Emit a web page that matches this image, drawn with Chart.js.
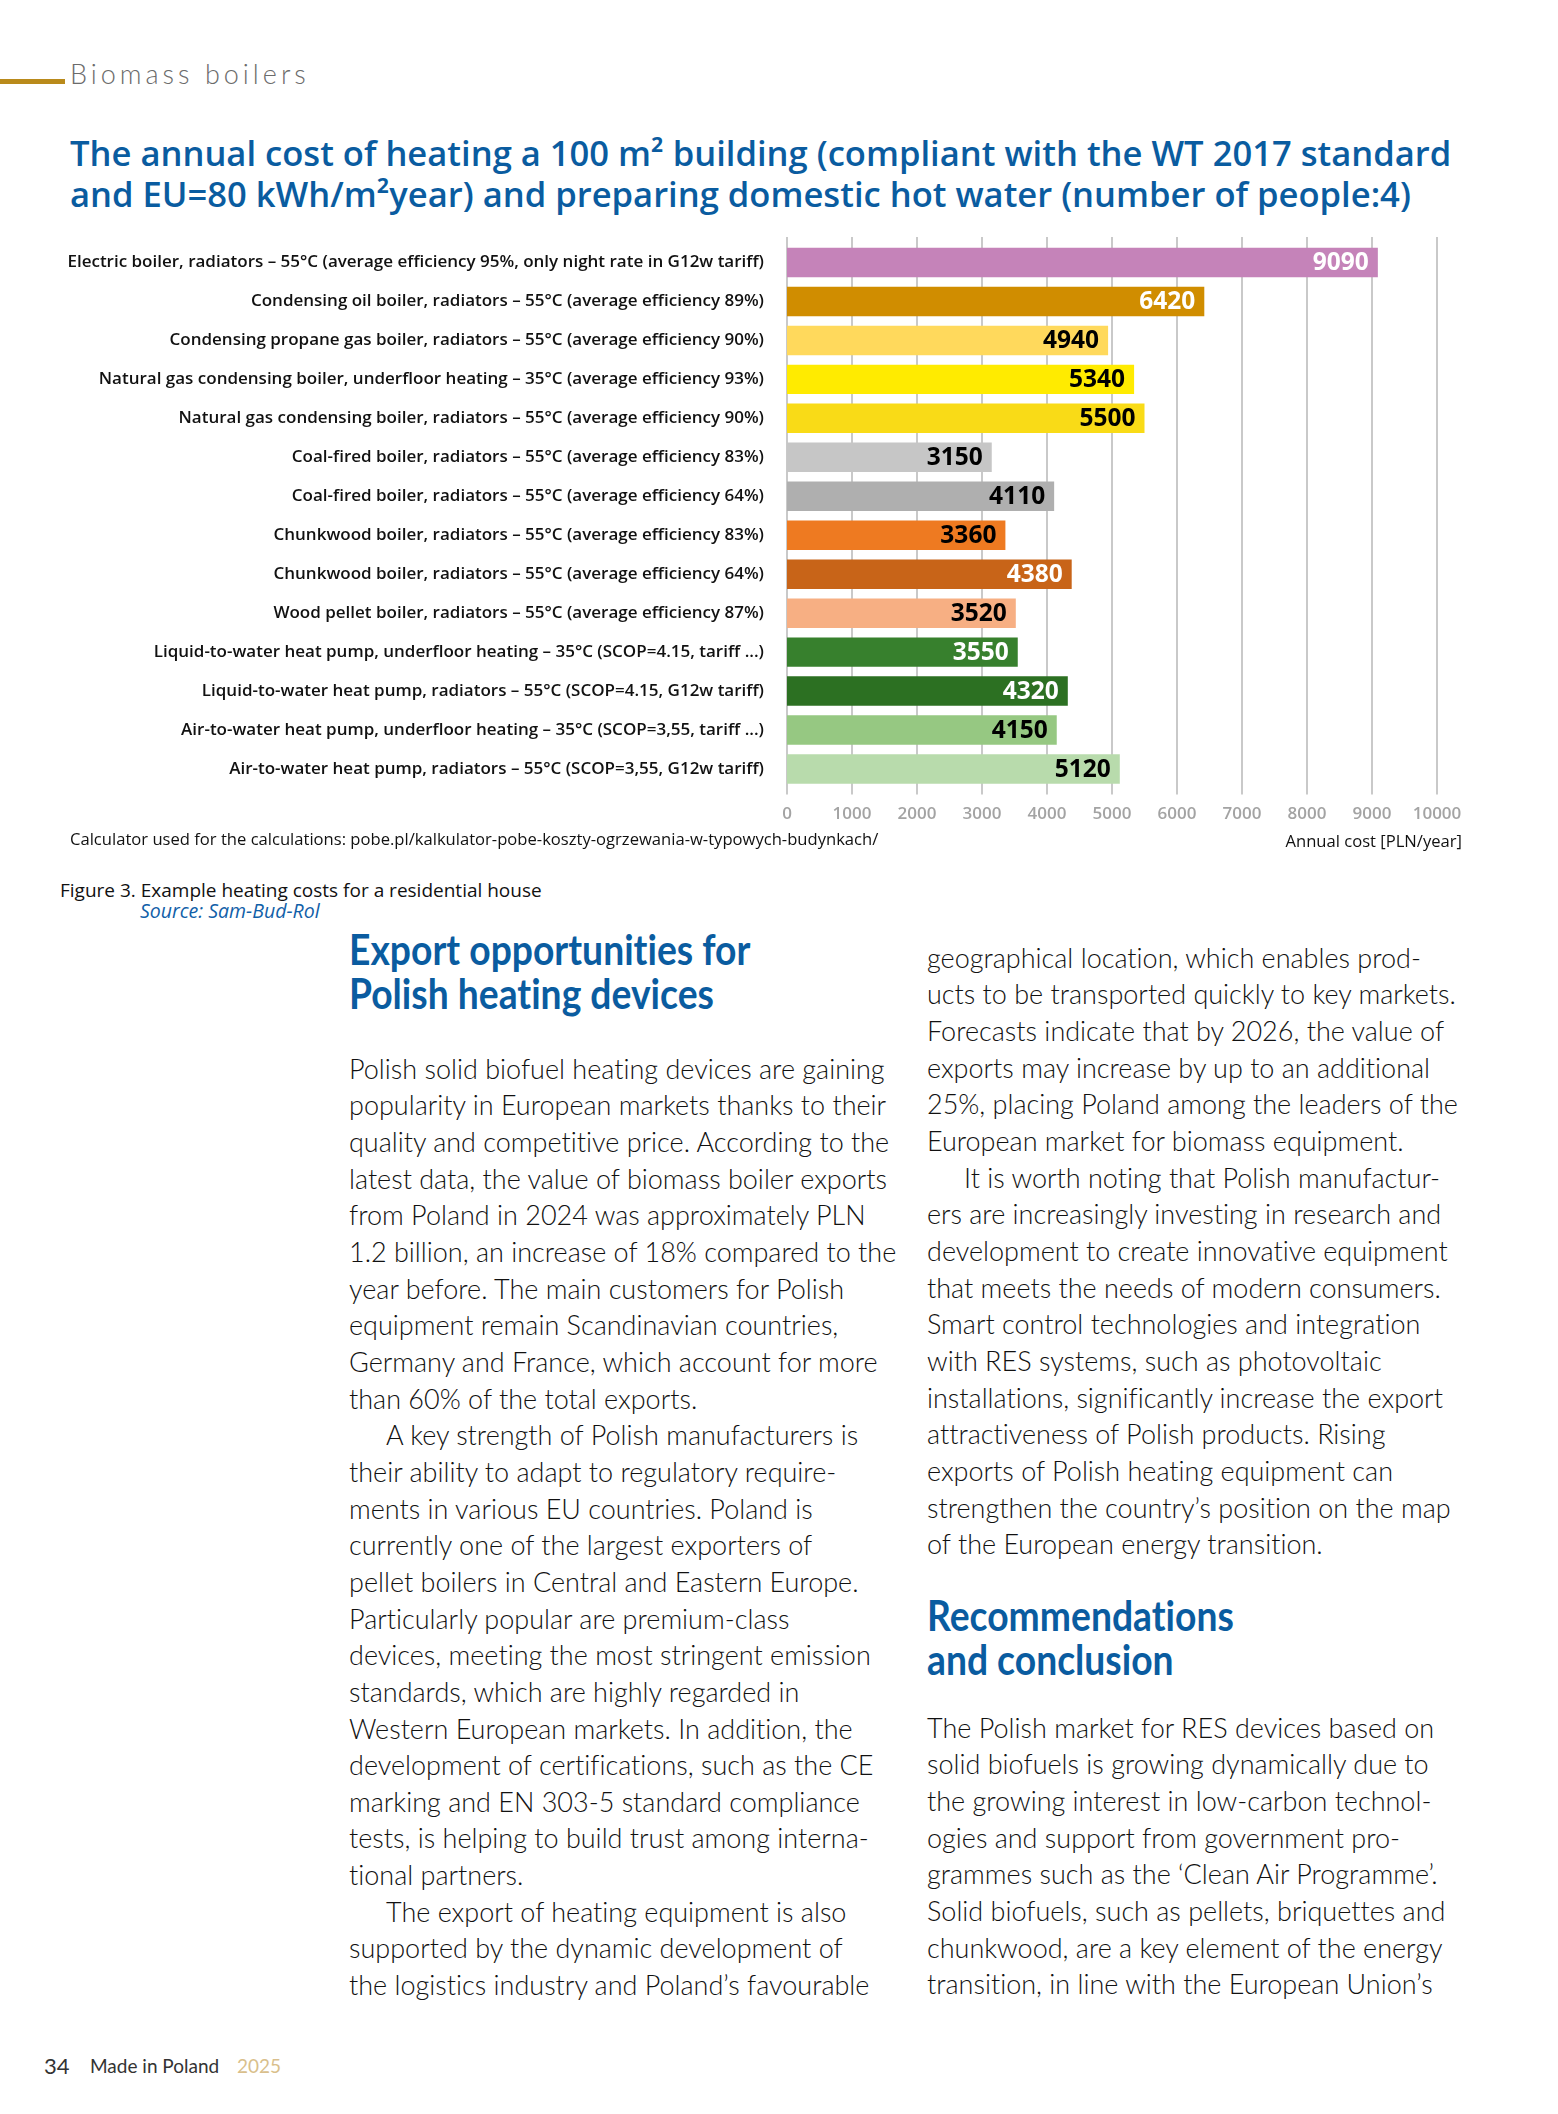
<!DOCTYPE html>
<html>
<head>
<meta charset="utf-8">
<script src="https://cdn.jsdelivr.net/npm/chart.js@4.4.1/dist/chart.umd.min.js"></script>
<style>
  html, body { margin: 0; padding: 0; background: #fff; }
  body { width: 1558px; height: 2114px; position: relative; overflow: hidden; font-family: "Lato", "Open Sans", sans-serif; font-variant-ligatures: none; }
  .abs { position: absolute; white-space: nowrap; }
  .goldbar { left: 0; top: 79px; width: 65px; height: 5px; background: #B98A1B; }
  .section { left: 70px; top: 57px; font-size: 27px; line-height: 34px; letter-spacing: 4px; color: #6b6b6b; font-weight: 300; }
  .title { left: 70px; top: 132px; font-family: "Open Sans", sans-serif; font-size: 34.6px; line-height: 41px; color: #0A5CA0; font-weight: 600; }
  .note { font-family: "Open Sans", sans-serif; font-size: 16.6px; color: #111; line-height: 20px; }
  .caption { left: 60px; top: 879px; font-family: "Open Sans", sans-serif; font-size: 19px; line-height: 22px; color: #111; }
  .source { left: 140px; top: 901px; font-family: "Open Sans", sans-serif; font-size: 19.5px; line-height: 20px; color: #1160a8; font-style: italic; }
  .head { font-weight: 700; font-size: 42px; line-height: 44px; color: #0A5CA0; transform: scaleX(0.887); transform-origin: 0 0; }
  .col { font-size: 27px; line-height: 36.66px; color: #111; font-weight: 300; }
  .col .in { padding-left: 37px; }
  .footer { top: 2052px; line-height: 28px; color: #333; }
  #chartWrap { position: absolute; left: 0; top: 225px; width: 1500px; height: 610px; }
</style>
</head>
<body>

<div class="abs goldbar"></div>
<div class="abs section">Biomass boilers</div>
<div class="abs title">The annual cost of heating a 100 m² building (compliant with the WT 2017 standard<br>and EU=80 kWh/m²year) and preparing domestic hot water (number of people:4)</div>

<div id="chartWrap"><canvas id="costChart" width="1500" height="610"></canvas></div>

<div class="abs note" style="left:70px; top:829px;">Calculator used for the calculations: pobe.pl/kalkulator-pobe-koszty-ogrzewania-w-typowych-budynkach/</div>
<div class="abs note" style="right:96px; top:831px;">Annual cost [PLN/year]</div>

<div class="abs caption">Figure 3. Example heating costs for a residential house</div>
<div class="abs source">Source: Sam-Bud-Rol</div>

<div class="abs head" style="left:349px; top:927px;">Export opportunities for<br>Polish heating devices</div>

<div class="abs col" style="left:349px; top:1050.7px;">
  <div>Polish solid biofuel heating devices are gaining</div>
  <div>popularity in European markets thanks to their</div>
  <div>quality and competitive price. According to the</div>
  <div>latest data, the value of biomass boiler exports</div>
  <div>from Poland in 2024 was approximately PLN</div>
  <div>1.2 billion, an increase of 18% compared to the</div>
  <div>year before. The main customers for Polish</div>
  <div>equipment remain Scandinavian countries,</div>
  <div>Germany and France, which account for more</div>
  <div>than 60% of the total exports.</div>
  <div class="in">A key strength of Polish manufacturers is</div>
  <div>their ability to adapt to regulatory require-</div>
  <div>ments in various EU countries. Poland is</div>
  <div>currently one of the largest exporters of</div>
  <div>pellet boilers in Central and Eastern Europe.</div>
  <div>Particularly popular are premium-class</div>
  <div>devices, meeting the most stringent emission</div>
  <div>standards, which are highly regarded in</div>
  <div>Western European markets. In addition, the</div>
  <div>development of certifications, such as the CE</div>
  <div>marking and EN 303-5 standard compliance</div>
  <div>tests, is helping to build trust among interna-</div>
  <div>tional partners.</div>
  <div class="in">The export of heating equipment is also</div>
  <div>supported by the dynamic development of</div>
  <div>the logistics industry and Poland’s favourable</div>
</div>

<div class="abs col" style="left:927px; top:939.7px;">
  <div>geographical location, which enables prod-</div>
  <div>ucts to be transported quickly to key markets.</div>
  <div>Forecasts indicate that by 2026, the value of</div>
  <div>exports may increase by up to an additional</div>
  <div>25%, placing Poland among the leaders of the</div>
  <div>European market for biomass equipment.</div>
  <div class="in">It is worth noting that Polish manufactur-</div>
  <div>ers are increasingly investing in research and</div>
  <div>development to create innovative equipment</div>
  <div>that meets the needs of modern consumers.</div>
  <div>Smart control technologies and integration</div>
  <div>with RES systems, such as photovoltaic</div>
  <div>installations, significantly increase the export</div>
  <div>attractiveness of Polish products. Rising</div>
  <div>exports of Polish heating equipment can</div>
  <div>strengthen the country’s position on the map</div>
  <div>of the European energy transition.</div>
</div>

<div class="abs head" style="left:927px; top:1593px;">Recommendations<br>and conclusion</div>

<div class="abs col" style="left:927px; top:1709.7px;">
  <div>The Polish market for RES devices based on</div>
  <div>solid biofuels is growing dynamically due to</div>
  <div>the growing interest in low-carbon technol-</div>
  <div>ogies and support from government pro-</div>
  <div>grammes such as the ‘Clean Air Programme’.</div>
  <div>Solid biofuels, such as pellets, briquettes and</div>
  <div>chunkwood, are a key element of the energy</div>
  <div>transition, in line with the European Union’s</div>
</div>

<div class="abs footer" style="left:44px; font-size:22px;">34</div>
<div class="abs footer" style="left:90px; font-size:19px;">Made in Poland</div>
<div class="abs footer" style="left:237px; font-size:19px; color:#D9BF8C;">2025</div>

<script>
// Heating cost chart
const categories = [
    'Electric boiler, radiators – 55°C (average efficiency 95%, only night rate in G12w tariff)',
    'Condensing oil boiler, radiators – 55°C (average efficiency 89%)',
    'Condensing propane gas boiler, radiators – 55°C (average efficiency 90%)',
    'Natural gas condensing boiler, underfloor heating – 35°C (average efficiency 93%)',
    'Natural gas condensing boiler, radiators – 55°C (average efficiency 90%)',
    'Coal-fired boiler, radiators – 55°C (average efficiency 83%)',
    'Coal-fired boiler, radiators – 55°C (average efficiency 64%)',
    'Chunkwood boiler, radiators – 55°C (average efficiency 83%)',
    'Chunkwood boiler, radiators – 55°C (average efficiency 64%)',
    'Wood pellet boiler, radiators – 55°C (average efficiency 87%)',
    'Liquid-to-water heat pump, underfloor heating – 35°C (SCOP=4.15, tariff ...)',
    'Liquid-to-water heat pump, radiators – 55°C (SCOP=4.15, G12w tariff)',
    'Air-to-water heat pump, underfloor heating – 35°C (SCOP=3,55, tariff ...)',
    'Air-to-water heat pump, radiators – 55°C (SCOP=3,55, G12w tariff)'
];
const annualCost = [9090, 6420, 4940, 5340, 5500, 3150, 4110, 3360, 4380, 3520, 3550, 4320, 4150, 5120];
const barColors = ['#C583B9', '#D08D00', '#FFD95C', '#FFEB00', '#F9DB17', '#C6C6C6', '#AFAFAF',
    '#EE7A21', '#C86418', '#F7AF83', '#37802D', '#2C7022', '#96C882', '#B8DBAC'];
const valueColors = ['#fff', '#fff', '#000', '#000', '#000', '#000', '#000',
    '#000', '#fff', '#000', '#fff', '#fff', '#000', '#000'];
const xMax = 10000;
const xStep = 1000;

// grid lines run a bit past the plot top and bottom
const gridLines = {
    id: 'gridLines',
    beforeDatasetsDraw(chart) {
        const {ctx, chartArea, scales: {x}} = chart;
        ctx.save();
        ctx.strokeStyle = '#C9C9C9';
        ctx.lineWidth = 2;
        x.ticks.forEach(t => {
            const px = Math.round(x.getPixelForValue(t.value));
            ctx.beginPath();
            ctx.moveTo(px, chartArea.top - 6);
            ctx.lineTo(px, chartArea.bottom + 6);
            ctx.stroke();
        });
        ctx.restore();
    }
};

// numbers inside the bar ends
const valueLabels = {
    id: 'valueLabels',
    afterDatasetsDraw(chart) {
        const {ctx} = chart;
        const meta = chart.getDatasetMeta(0);
        ctx.save();
        ctx.font = 'bold 24.5px "Open Sans"';
        ctx.textAlign = 'right';
        ctx.textBaseline = 'middle';
        meta.data.forEach((bar, i) => {
            ctx.fillStyle = valueColors[i];
            ctx.fillText(String(annualCost[i]), bar.x - 9, bar.y + 1);
        });
        ctx.restore();
    }
};

new Chart(document.getElementById('costChart'), {
    type: 'bar',
    data: {
        labels: categories,
        datasets: [{
            data: annualCost,
            backgroundColor: barColors,
            borderWidth: 0,
            categoryPercentage: 1,
            barPercentage: 0.757
        }]
    },
    options: {
        indexAxis: 'y',
        responsive: false,
        animation: false,
        devicePixelRatio: 1,
        layout: { padding: { top: 18, right: 63, bottom: 6.5, left: 0 } },
        scales: {
            x: {
                min: 0,
                max: xMax,
                ticks: {
                    stepSize: xStep,
                    padding: 7,
                    color: '#A3A3A3',
                    font: { family: 'Open Sans', size: 17, weight: '600' },
                    callback: v => String(v)
                },
                grid: { display: false },
                border: { display: false },
                afterFit(scale) { scale.height = 40; }
            },
            y: {
                ticks: {
                    padding: 15,
                    color: '#111',
                    font: { family: 'Open Sans', size: 17, weight: '600' }
                },
                grid: { display: false },
                border: { display: false },
                afterFit(scale) {
                    scale.width = 787;
                    scale.paddingTop = 0;
                    scale.paddingBottom = 0;
                }
            }
        },
        plugins: {
            legend: { display: false },
            tooltip: { enabled: false }
        }
    },
    plugins: [gridLines, valueLabels]
});
</script>
</body>
</html>
